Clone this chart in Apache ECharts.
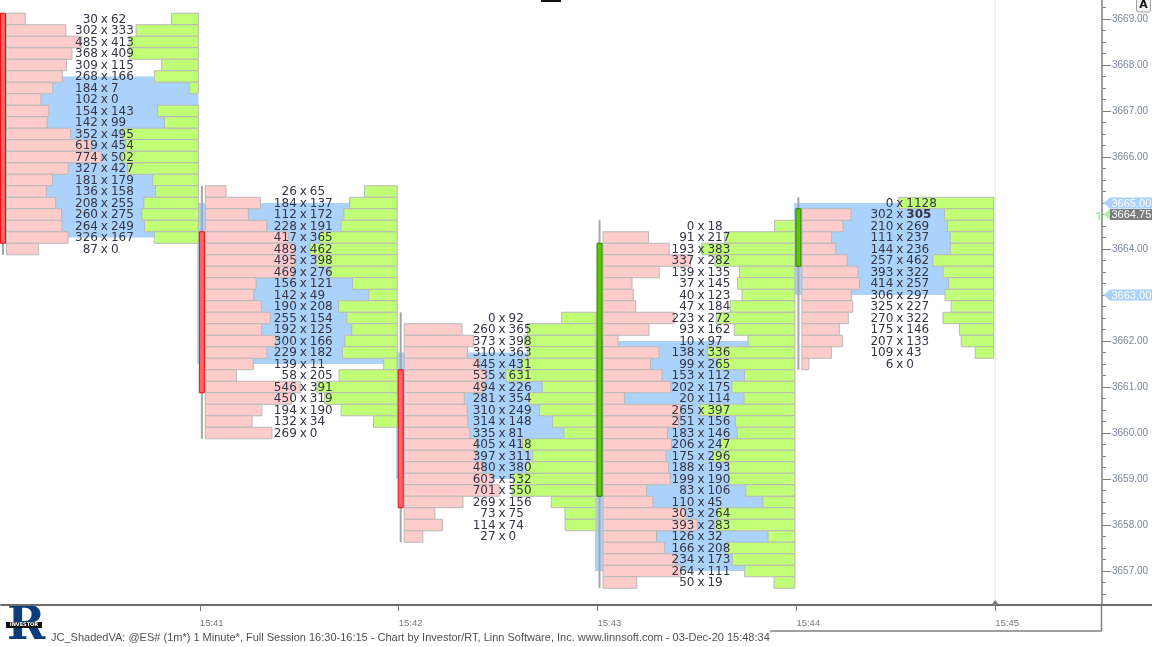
<!DOCTYPE html>
<html><head><meta charset="utf-8">
<script src="https://cdn.jsdelivr.net/npm/echarts@6/dist/echarts.min.js"></script>
<style>html,body{margin:0;padding:0;background:#fff;overflow:hidden}#c{width:1152px;height:647px}</style>
</head><body><div id="c"></div>
<script>
// ---- data ----
const times = ['15:40','15:41','15:42','15:43','15:44','15:45'];
const timeTicks = [1,2,3,4,5];
const topPrice = [3669.00, 3665.25, 3662.50, 3664.50, 3665.00];
const bid0 = [30,302,485,368,309,268,184,102,154,142,352,619,774,327,181,136,208,260,264,326,87];
const ask0 = [62,333,413,409,115,166,7,0,143,99,495,454,502,427,179,158,255,275,249,167,0];
const bid1 = [26,184,112,228,417,489,495,469,156,142,190,255,192,300,229,139,58,546,450,194,132,269];
const ask1 = [65,137,172,191,365,462,398,276,121,49,208,154,125,166,182,11,205,391,319,190,34,0];
const bid2 = [0,260,373,310,445,535,494,281,310,314,335,405,397,480,603,701,269,73,114,27];
const ask2 = [92,365,398,363,431,631,226,354,249,148,81,418,311,380,532,550,156,75,74,0];
const bid3 = [0,91,193,337,139,37,40,47,223,93,10,138,99,153,202,20,265,251,183,206,175,188,199,83,110,303,393,126,166,234,264,50];
const ask3 = [18,217,383,282,135,145,123,184,272,162,97,336,265,112,175,114,397,156,146,247,296,193,190,106,45,264,283,32,208,173,111,19];
const bid4 = [0,302,210,111,144,257,393,414,306,325,270,175,207,109,6];
const ask4 = [1128,305,269,237,236,462,322,257,297,227,322,146,133,43,0];
const boldAskCells = [[4,1]];
const opens  = [3669.00, 3664.25, 3661.25, 3658.75, 3663.75];
const closes = [3664.25, 3661.00, 3658.50, 3664.00, 3664.75];
const highs  = [3669.00, 3665.25, 3662.50, 3664.50, 3665.00];
const lows   = [3664.00, 3660.00, 3657.75, 3656.75, 3661.50];
const vaHigh = [3667.75, 3665.00, 3661.75, 3662.00, 3665.00];
const vaLow  = [3664.25, 3661.50, 3659.00, 3657.00, 3663.00];
const priceLabels = [3657,3658,3659,3660,3661,3662,3663,3664,3665,3666,3667,3668,3669];
const quarterTicks = [];
for (let p = 3656.25; p <= 3669.26; p += 0.25) quarterTicks.push(+p.toFixed(2));
const markerPrices = [3665.00, 3664.75, 3663.00];
const markerKinds = ['va','last','va'];

const bids = [bid0,bid1,bid2,bid3,bid4];
const asks = [ask0,ask1,ask2,ask3,ask4];

const cellData = [];
bids.forEach((bs, c) => {
  const as = asks[c];
  const mx = Math.max(Math.max.apply(null, bs), Math.max.apply(null, as));
  bs.forEach((b, r) => {
    const bold = boldAskCells.some(q => q[0] === c && q[1] === r) ? 1 : 0;
    cellData.push([c, topPrice[c] - 0.25 * r, b, as[r], mx, bold]);
  });
});
const vaData = vaHigh.map((h, i) => [i, h, vaLow[i]]);
const candleData = opens.map((o, i) => [i, o, closes[i], highs[i], lows[i]]);
const markerData = markerPrices.map((p, i) => [0, p, i]);
const majorTickData = priceLabels.map(p => [0, p]);

const TXT = '#353545';
const FONT = '12px "DejaVu Sans"';

function vaItem(params, api) {
  const t = api.value(0);
  const p1 = api.coord([t, api.value(1)]);
  const p2 = api.coord([t, api.value(2)]);
  const nx = api.coord([t + 1, api.value(1)])[0];
  const x0 = p1[0] - 2.5, x1 = nx - 1.5;
  return { type: 'rect', shape: { x: x0, y: p1[1], width: x1 - x0, height: p2[1] - p1[1] },
    style: { fill: '#aad2fa' } };
}

function cellItem(params, api) {
  const c = api.value(0), p = api.value(1), b = api.value(2), a = api.value(3), mx = api.value(4), bold = api.value(5);
  const pt = api.coord([c, p]);
  const nx = api.coord([c + 1, p])[0];
  const rowH = api.size([0, 0.25])[1];
  const left = pt[0] + 5.5, right = nx - 1.5;
  const W = (right - left) / 2 - 1;
  const y0 = pt[1] - rowH / 2, h = rowH;
  const ch = [];
  if (b > 0) {
    const w = W * Math.sqrt(b / mx);
    ch.push({ type: 'rect', shape: { x: left, y: y0, width: w, height: h },
      style: { fill: '#ffcccc', stroke: '#b8b8b8', lineWidth: 1 } });
  }
  if (a > 0) {
    const w = W * Math.sqrt(a / mx);
    ch.push({ type: 'rect', shape: { x: right - w, y: y0, width: w, height: h },
      style: { fill: '#c0ff76', stroke: '#b8b8b8', lineWidth: 1 } });
  }
  const cx = (left + right) / 2 + 2;
  const ty = pt[1] + 0.5;
  ch.push({ type: 'text', z2: 5, style: { text: String(b), x: cx - 6.5, y: ty, align: 'right', verticalAlign: 'middle', font: FONT, fill: TXT } });
  ch.push({ type: 'text', z2: 5, style: { text: 'x', x: cx, y: ty, align: 'center', verticalAlign: 'middle', font: FONT, fill: TXT } });
  ch.push({ type: 'text', z2: 5, style: { text: String(a), x: cx + 6.5, y: ty, align: 'left', verticalAlign: 'middle', font: bold ? 'bold ' + FONT : FONT, fill: TXT } });
  return { type: 'group', children: ch };
}

function candleItem(params, api) {
  const t = api.value(0), o = api.value(1), c = api.value(2), hi = api.value(3), lo = api.value(4);
  const x = api.coord([t, o])[0] + 2;
  const yh = api.coord([t, hi + 0.125])[1], yl = api.coord([t, lo - 0.125])[1];
  const yt = api.coord([t, Math.max(o, c) + 0.125])[1], yb = api.coord([t, Math.min(o, c) - 0.125])[1];
  const up = c >= o;
  return { type: 'group', children: [
    { type: 'rect', shape: { x: x - 1, y: yh, width: 2, height: yl - yh }, style: { fill: '#a6a6a6' } },
    { type: 'rect', shape: { x: x - 2.5, y: yt, width: 5, height: yb - yt },
      style: { fill: up ? '#5cc800' : '#ff6464', stroke: up ? '#2e7a00' : '#e01010', lineWidth: 1 } }
  ] };
}

function majorTickItem(params, api) {
  const y = Math.round(api.coord([0, api.value(1)])[1]) + 0.5;
  const ax = params.coordSys.x + params.coordSys.width;
  return { type: 'line', shape: { x1: ax, y1: y, x2: ax + 9, y2: y }, style: { stroke: '#808080', lineWidth: 1 } };
}

function markerItem(params, api) {
  const p = api.value(1), k = markerKinds[api.value(2)];
  const y = api.coord([0, p])[1];
  const ax = params.coordSys.x + params.coordSys.width;
  const isVa = k === 'va';
  const bg = isVa ? '#a9d1fb' : '#7d7d7d';
  const arrow = isVa ? '#a9d1fb' : '#aef0a8';
  const ch = [
    { type: 'polygon', shape: { points: [[ax + 1.5, y], [ax + 8, y - 5.5], [ax + 8, y + 5.5]] }, style: { fill: arrow } },
    { type: 'rect', shape: { x: ax + 8, y: y - 5.5, width: 60, height: 11 }, style: { fill: bg } },
    { type: 'text', style: { text: p.toFixed(2), x: ax + 9.5, y: y + 0.5, align: 'left', verticalAlign: 'middle',
      font: '11px "Liberation Sans"', fill: '#ffffff' } }
  ];
  if (!isVa) {
    ch.push({ type: 'rect', shape: { x: ax - 3.5, y: y - 2, width: 1.6, height: 8 }, style: { fill: '#9ee89a' } });
    ch.push({ type: 'rect', shape: { x: ax - 6, y: y - 2, width: 4, height: 1.6 }, style: { fill: '#9ee89a' } });
  }
  return { type: 'group', children: ch };
}

function nowItem(params, api) {
  const pt = api.coord([api.value(0), api.value(1)]);
  const top = params.coordSys.y, bot = params.coordSys.y + params.coordSys.height;
  return { type: 'group', children: [
    { type: 'rect', shape: { x: pt[0] - 0.5, y: top, width: 1, height: bot - top }, style: { fill: '#e4e4e4' } },
    { type: 'polygon', shape: { points: [[pt[0] - 3.5, bot - 0.5], [pt[0], bot - 5], [pt[0] + 3.5, bot - 0.5]] }, style: { fill: '#777' } }
  ] };
}

const YMIN = 3656.261, YMAX = 3669.413;
const chart = echarts.init(document.getElementById('c'), null, { width: 1152, height: 647 });
chart.setOption({
  animation: false,
  backgroundColor: '#ffffff',
  grid: { left: 1, right: 50, top: 0, bottom: 42 },
  xAxis: {
    type: 'value', min: 0, max: 5.5369,
    axisLine: { show: true, onZero: false, lineStyle: { color: '#6c6c6c', width: 2 } },
    axisTick: { show: true, customValues: timeTicks, length: 6, lineStyle: { color: '#7a7a7a' } },
    axisLabel: { customValues: timeTicks, formatter: v => times[Math.round(v)], align: 'left', color: '#7a7a7a',
      fontSize: 9.5, fontFamily: 'Liberation Sans', margin: 13 },
    splitLine: { show: false }
  },
  yAxis: {
    type: 'value', position: 'right', min: YMIN, max: YMAX,
    axisLine: { show: true, onZero: false, lineStyle: { color: '#808080', width: 1.5 } },
    axisTick: { show: true, customValues: quarterTicks, length: 4, lineStyle: { color: '#808080' } },
    axisLabel: { customValues: priceLabels, formatter: v => v.toFixed(2), color: '#7b8696', fontSize: 10,
      fontFamily: 'Liberation Sans', margin: 10, verticalAlign: 'middle', padding: [0, 0, 7, 0] },
    splitLine: { show: false }
  },
  series: [
    { type: 'custom', name: 'now', z: 1, clip: false, renderItem: nowItem, data: [[5, 3660]], encode: { x: 0, y: 1 }, silent: true },
    { type: 'custom', name: 'value area', z: 2, renderItem: vaItem, data: vaData, encode: { x: 0, y: [1, 2] }, silent: true },
    { type: 'custom', name: 'footprint', z: 3, clip: false, renderItem: cellItem, data: cellData, encode: { x: 0, y: 1 }, silent: true },
    { type: 'custom', name: 'candles', z: 4, clip: false, renderItem: candleItem, data: candleData, encode: { x: 0, y: [1, 2, 3, 4] }, silent: true },
    { type: 'custom', name: 'major ticks', z: 4, clip: false, renderItem: majorTickItem, data: majorTickData, encode: { x: 0, y: 1 }, silent: true },
    { type: 'custom', name: 'markers', z: 5, clip: false, renderItem: markerItem, data: markerData, encode: { x: 0, y: 1 }, silent: true }
  ],
  graphic: [
    { type: 'rect', shape: { x: 541, y: 0, width: 20, height: 2 }, style: { fill: '#111' } },
    { type: 'rect', shape: { x: 1136.5, y: -2, width: 14, height: 14, r: 2 }, style: { fill: '#f2f2f2', stroke: '#a0a0a0', lineWidth: 1 } },
    { type: 'text', style: { text: 'A', x: 1143.5, y: 5.5, align: 'center', verticalAlign: 'middle', font: 'bold 11px "DejaVu Sans"', fill: '#111' } },
    { type: 'line', shape: { x1: 1101, y1: 605, x2: 1152, y2: 605 }, style: { stroke: '#6c6c6c', lineWidth: 2 } },
    { type: 'line', shape: { x1: 1101.5, y1: 605, x2: 1101.5, y2: 631 }, style: { stroke: '#808080', lineWidth: 1.5 } },
    { type: 'line', shape: { x1: 770, y1: 631, x2: 1101.5, y2: 631 }, style: { stroke: '#808080', lineWidth: 1.5 } },
    { type: 'text', style: { text: 'R', x: 7, y: 604, font: 'bold 46px "DejaVu Serif"', fill: '#0d3c7a' } },
    { type: 'rect', shape: { x: 6, y: 622, width: 36, height: 6 }, style: { fill: '#111' } },
    { type: 'text', style: { text: 'INVESTOR', x: 24, y: 625, align: 'center', verticalAlign: 'middle', font: 'bold 5px "DejaVu Sans"', fill: '#fff' } },
    { type: 'text', style: { text: 'JC_ShadedVA: @ES# (1m*) 1 Minute*, Full Session 16:30-16:15 - Chart by Investor/RT, Linn Software, Inc. www.linnsoft.com - 03-Dec-20 15:48:34',
      x: 51, y: 637.5, verticalAlign: 'middle', font: '11px "Liberation Sans"', fill: '#505050' } }
  ]
});
</script></body></html>
